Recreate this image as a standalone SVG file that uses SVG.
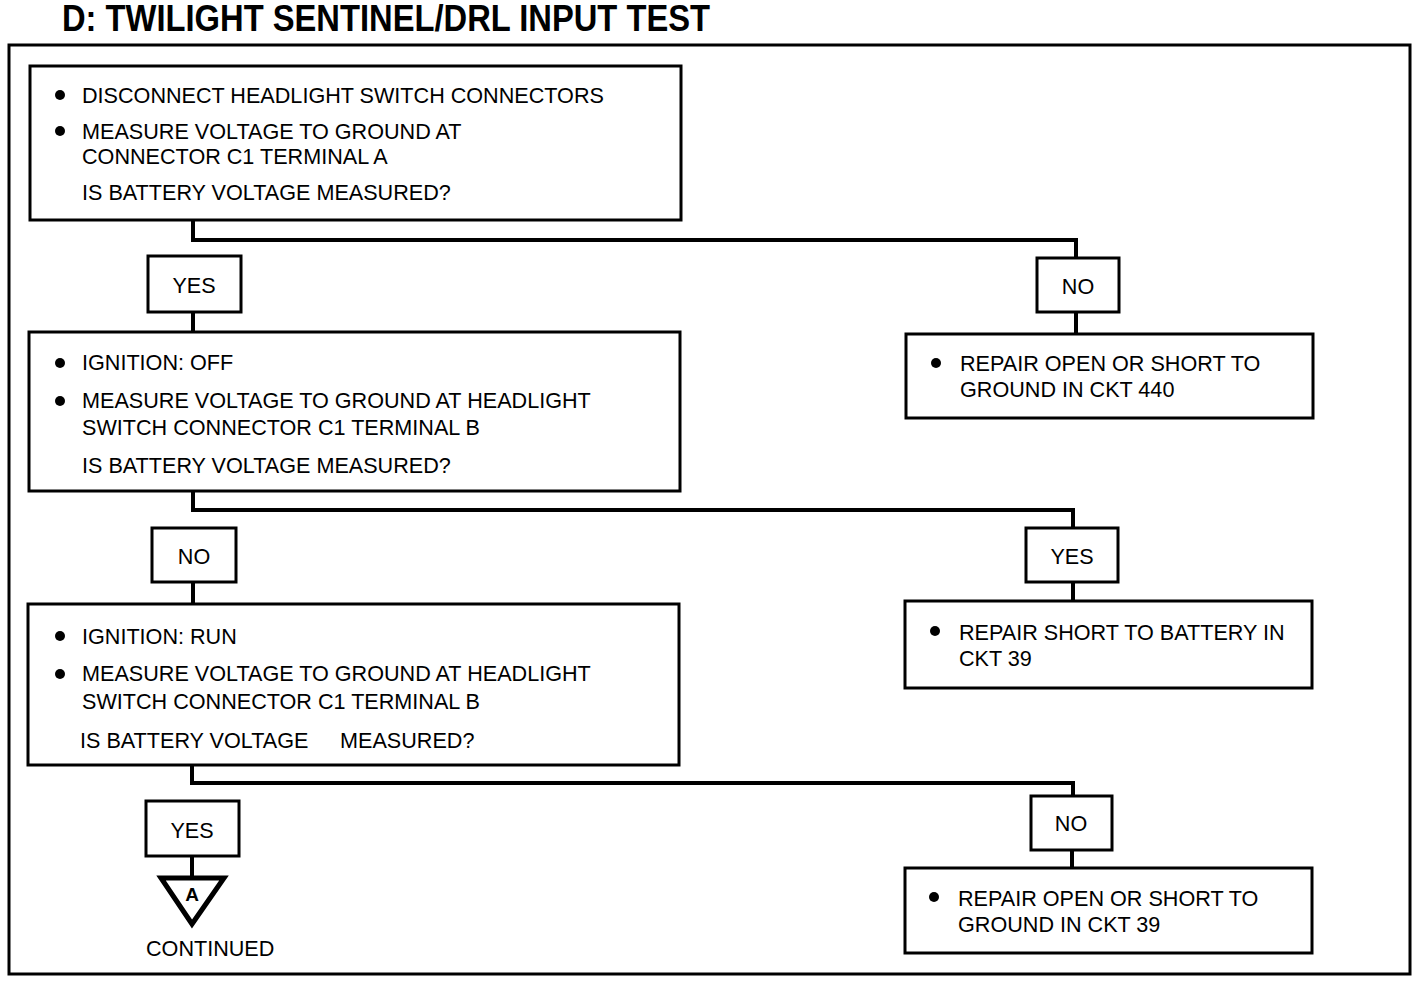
<svg xmlns="http://www.w3.org/2000/svg" width="1424" height="984" viewBox="0 0 1424 984">
<style>
.box{fill:#fff;stroke:#000;stroke-width:3}
.lbl{fill:#fff;stroke:#000;stroke-width:3}
.t{font-family:"Liberation Sans",Arial,sans-serif;font-size:21.6px;fill:#000}
.c{text-anchor:middle}
.conn{fill:none;stroke:#000;stroke-width:4}
</style>
<rect width="1424" height="984" fill="#fff"/>
<text x="62" y="31" font-family="Liberation Sans,Arial,sans-serif" font-weight="bold" font-size="37" textLength="648" lengthAdjust="spacingAndGlyphs">D: TWILIGHT SENTINEL/DRL INPUT TEST</text>
<rect x="9" y="45" width="1401" height="929" fill="none" stroke="#000" stroke-width="3"/>
<g id="connectors">
<path class="conn" d="M193 220 V240 H1076 V258"/>
<path class="conn" d="M193 312 V332"/>
<path class="conn" d="M1076 312 V334"/>
<path class="conn" d="M193 491 V510 H1073 V528"/>
<path class="conn" d="M193 582 V604"/>
<path class="conn" d="M1073 582 V601"/>
<path class="conn" d="M192 765 V783 H1073 V796"/>
<path class="conn" d="M192 856 V877"/>
<path class="conn" d="M1072 850 V868"/>
</g>
<g id="box1">
<rect class="box" x="30" y="66" width="651" height="154"/>
<circle cx="60" cy="95" r="5"/><circle cx="60" cy="131" r="5"/>
<text class="t" x="82" y="103">DISCONNECT HEADLIGHT SWITCH CONNECTORS</text>
<text class="t" x="82" y="139">MEASURE VOLTAGE TO GROUND AT</text>
<text class="t" x="82" y="164">CONNECTOR C1 TERMINAL A</text>
<text class="t" x="82" y="200">IS BATTERY VOLTAGE MEASURED?</text>
</g>
<g id="yes1"><rect class="lbl" x="148" y="256" width="93" height="56"/><text class="t c" x="194" y="293">YES</text></g>
<g id="no1"><rect class="lbl" x="1037" y="258" width="82" height="54"/><text class="t c" x="1078" y="294">NO</text></g>
<g id="box2">
<rect class="box" x="29" y="332" width="651" height="159"/>
<circle cx="60" cy="363" r="5"/><circle cx="60" cy="401" r="5"/>
<text class="t" x="82" y="370">IGNITION: OFF</text>
<text class="t" x="82" y="408">MEASURE VOLTAGE TO GROUND AT HEADLIGHT</text>
<text class="t" x="82" y="435">SWITCH CONNECTOR C1 TERMINAL B</text>
<text class="t" x="82" y="473">IS BATTERY VOLTAGE MEASURED?</text>
</g>
<g id="repair1">
<rect class="box" x="906" y="334" width="407" height="84"/>
<circle cx="936" cy="363" r="5"/>
<text class="t" x="960" y="371">REPAIR OPEN OR SHORT TO</text>
<text class="t" x="960" y="397">GROUND IN CKT 440</text>
</g>
<g id="no2"><rect class="lbl" x="152" y="528" width="84" height="54"/><text class="t c" x="194" y="564">NO</text></g>
<g id="yes2"><rect class="lbl" x="1026" y="528" width="92" height="54"/><text class="t c" x="1072" y="564">YES</text></g>
<g id="box3">
<rect class="box" x="28" y="604" width="651" height="161"/>
<circle cx="60" cy="636" r="5"/><circle cx="60" cy="674" r="5"/>
<text class="t" x="82" y="644">IGNITION: RUN</text>
<text class="t" x="82" y="681">MEASURE VOLTAGE TO GROUND AT HEADLIGHT</text>
<text class="t" x="82" y="709">SWITCH CONNECTOR C1 TERMINAL B</text>
<text class="t" x="80" y="748">IS BATTERY VOLTAGE</text>
<text class="t" x="340" y="748">MEASURED?</text>
</g>
<g id="repair2">
<rect class="box" x="905" y="601" width="407" height="87"/>
<circle cx="935" cy="631" r="5"/>
<text class="t" x="959" y="640">REPAIR SHORT TO BATTERY IN</text>
<text class="t" x="959" y="666">CKT 39</text>
</g>
<g id="yes3"><rect class="lbl" x="146" y="801" width="93" height="55"/><text class="t c" x="192" y="838">YES</text></g>
<g id="no3"><rect class="lbl" x="1031" y="796" width="81" height="54"/><text class="t c" x="1071" y="831">NO</text></g>
<g id="repair3">
<rect class="box" x="905" y="868" width="407" height="85"/>
<circle cx="934" cy="897" r="5"/>
<text class="t" x="958" y="906">REPAIR OPEN OR SHORT TO</text>
<text class="t" x="958" y="932">GROUND IN CKT 39</text>
</g>
<g id="offpageA">
<polygon points="161,878 224,878 192,924" fill="#fff" stroke="#000" stroke-width="5" stroke-linejoin="miter"/>
<text x="192" y="901" text-anchor="middle" font-family="Liberation Sans,Arial,sans-serif" font-weight="bold" font-size="19">A</text>
<text class="t" x="146" y="956">CONTINUED</text>
</g>
</svg>
